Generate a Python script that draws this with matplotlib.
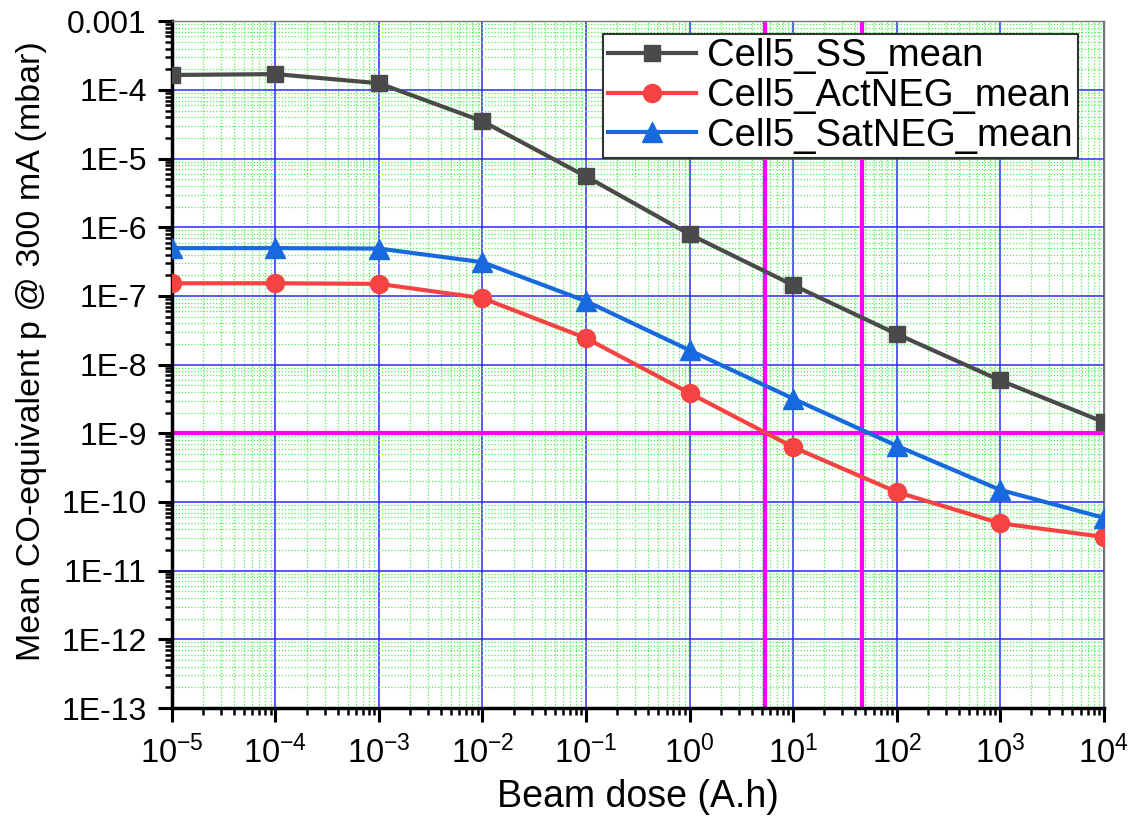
import numpy as np
import matplotlib.pyplot as plt
from matplotlib.ticker import LogLocator, FuncFormatter, NullFormatter

plt.rcParams['font.family'] = ['Liberation Sans', 'DejaVu Sans']
plt.rcParams['mathtext.fontset'] = 'custom'
plt.rcParams['mathtext.rm'] = 'Liberation Sans'
plt.rcParams['mathtext.default'] = 'regular'

# --- data ---
dose = [1e-5, 1e-4, 1e-3, 1e-2, 1e-1, 1e0, 1e1, 1e2, 1e3, 1e4]
ss_mean = [1.65e-4, 1.7e-4, 1.25e-4, 3.5e-5, 5.5e-6, 7.9e-7, 1.44e-7, 2.8e-8, 5.9e-9, 1.46e-9]
act_neg_mean = [1.53e-7, 1.53e-7, 1.5e-7, 9.3e-8, 2.43e-8, 3.85e-9, 6.3e-10, 1.4e-10, 4.9e-11, 3.1e-11]
sat_neg_mean = [4.97e-7, 4.97e-7, 4.9e-7, 3.1e-7, 8.4e-8, 1.62e-8, 3.2e-9, 6.6e-10, 1.5e-10, 5.9e-11]

series_names = ['Cell5_SS_mean', 'Cell5_ActNEG_mean', 'Cell5_SatNEG_mean']
p_limit = 1e-9
dose_at_limit = [5.4, 46.0]

# --- figure ---
fig = plt.figure(figsize=(11.46, 8.17), dpi=100)
ax = fig.add_axes([0.150, 0.1334, 0.813, 0.8406])

ax.set_xscale('log')
ax.set_yscale('log')
ax.set_xlim(1e-5, 1e4)
ax.set_ylim(1e-13, 1e-3)

# grids
ax.xaxis.set_major_locator(LogLocator(base=10, numticks=20))
ax.yaxis.set_major_locator(LogLocator(base=10, numticks=20))
ax.xaxis.set_minor_locator(LogLocator(base=10, subs=np.arange(2, 10), numticks=20))
ax.yaxis.set_minor_locator(LogLocator(base=10, subs=np.arange(2, 10), numticks=20))
ax.grid(which='minor', color='#55ee55', linestyle=(0, (1, 1.5)), linewidth=0.9)
ax.grid(which='major', color='#2a2aff', linestyle='-', linewidth=1.1)
ax.set_axisbelow(True)

# reference lines
ax.axhline(p_limit, color='#ff00ff', linewidth=3, zorder=1.5)
for d in dose_at_limit:
    ax.axvline(d, color='#ff00ff', linewidth=3, zorder=1.5)

ax.plot(dose, ss_mean, '-s', color='#4a4a4a', markersize=11.5, linewidth=3, label=series_names[0], zorder=3)
ax.plot(dose, act_neg_mean, '-o', color='#f54242', markersize=13, linewidth=3, label=series_names[1], zorder=3)
ax.plot(dose, sat_neg_mean, '-^', color='#1769dd', markersize=14, linewidth=3, label=series_names[2], zorder=3)

# tick labels
def ylab(v, pos):
    e = int(round(np.log10(v)))
    if e == -3:
        return '0.001'
    return '1E%d' % e

def xlab(v, pos):
    e = int(round(np.log10(v)))
    return r'$10^{%d}$' % e

ax.yaxis.set_major_formatter(FuncFormatter(ylab))
ax.xaxis.set_major_formatter(FuncFormatter(xlab))
ax.xaxis.set_minor_formatter(NullFormatter())
ax.yaxis.set_minor_formatter(NullFormatter())

ax.tick_params(which='major', direction='out', length=10, width=2.2, labelsize=23, pad=8,
               top=False, right=False)
ax.tick_params(which='minor', direction='out', length=5, width=1.8, top=False, right=False)
ax.tick_params(axis='x', which='major', labelsize=23.5, pad=10)

for s in ['left', 'bottom']:
    ax.spines[s].set_linewidth(2.5)
    ax.spines[s].set_color('black')
for s in ['top', 'right']:
    ax.spines[s].set_linewidth(1)
    ax.spines[s].set_color('#777777')

ax.set_xlabel('Beam dose (A.h)', fontsize=27, labelpad=6)
ax.set_ylabel('Mean CO-equivalent p @ 300 mA (mbar)', fontsize=24.5)
ax.yaxis.set_label_coords(-0.134, 0.52)

leg = ax.legend(loc='upper right', bbox_to_anchor=(0.972, 0.982), fontsize=27.5, frameon=True,
                fancybox=False, borderaxespad=0, handlelength=2.3, handletextpad=0.3,
                labelspacing=0.1, borderpad=0.12)
leg.get_frame().set_edgecolor('#333333')
leg.get_frame().set_linewidth(1.5)
leg.get_frame().set_alpha(1)

fig.savefig('out.png', dpi=100)
